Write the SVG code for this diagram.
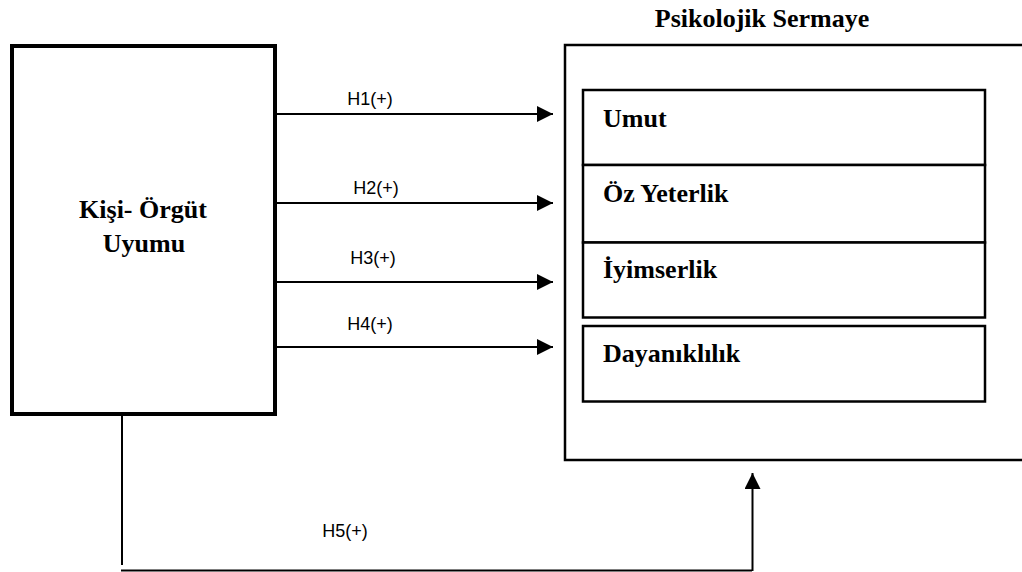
<svg xmlns="http://www.w3.org/2000/svg" width="1022" height="572" viewBox="0 0 1022 572">
  <defs>
    <marker id="arrow" markerUnits="userSpaceOnUse" markerWidth="16" markerHeight="16" refX="16" refY="8" orient="auto">
      <path d="M0,0 L16,8 L0,16 Z" fill="#000"/>
    </marker>
    <style>
      .bold { font-family: "Liberation Serif", "Times New Roman", serif; font-weight: bold; font-size: 26px; fill: #000; }
      .lbl { font-family: "Liberation Sans", Arial, sans-serif; font-size: 18px; fill: #000; text-anchor: middle; }
      .box { fill: #fff; stroke: #000; }
      .conn { fill: none; stroke: #000; stroke-width: 2; }
    </style>
  </defs>
  <rect width="1022" height="572" fill="#fff"/>

  <g id="kisi-orgut-uyumu">
    <rect class="box" x="12" y="46" width="263" height="368" stroke-width="4"/>
    <text class="bold" x="143" y="218" text-anchor="middle">Kişi- Örgüt</text>
    <text class="bold" x="144" y="252" text-anchor="middle">Uyumu</text>
  </g>

  <g id="psikolojik-sermaye">
    <text class="bold" x="762" y="27" text-anchor="middle">Psikolojik Sermaye</text>
    <rect class="box" x="565" y="45" width="470" height="415" stroke-width="2.5"/>
  </g>

  <g id="umut">
    <rect class="box" x="583" y="90" width="402" height="75" stroke-width="2.5"/>
    <text class="bold" x="603" y="127">Umut</text>
  </g>
  <g id="oz-yeterlik">
    <rect class="box" x="583" y="165" width="402" height="77.5" stroke-width="2.5"/>
    <text class="bold" x="603" y="202">Öz Yeterlik</text>
  </g>
  <g id="iyimserlik">
    <rect class="box" x="583" y="242.5" width="402" height="75" stroke-width="2.5"/>
    <text class="bold" x="603" y="278">İyimserlik</text>
  </g>
  <g id="dayaniklilik">
    <rect class="box" x="583" y="326" width="402" height="75.5" stroke-width="2.5"/>
    <text class="bold" x="603" y="362">Dayanıklılık</text>
  </g>

  <g id="connectors">
    <line class="conn" x1="275" y1="114" x2="553" y2="114" marker-end="url(#arrow)"/>
    <line class="conn" x1="275" y1="203" x2="553" y2="203" marker-end="url(#arrow)"/>
    <line class="conn" x1="275" y1="282" x2="553" y2="282" marker-end="url(#arrow)"/>
    <line class="conn" x1="275" y1="347" x2="553" y2="347" marker-end="url(#arrow)"/>
    <line class="conn" x1="122" y1="414" x2="122" y2="565"/>
    <line class="conn" x1="121" y1="570.5" x2="752" y2="570.5"/>
    <line class="conn" x1="752.5" y1="571" x2="752.5" y2="473" marker-end="url(#arrow)"/>
    <text class="lbl" x="370" y="105">H1(+)</text>
    <text class="lbl" x="376" y="194">H2(+)</text>
    <text class="lbl" x="373" y="264">H3(+)</text>
    <text class="lbl" x="370" y="330">H4(+)</text>
    <text class="lbl" x="345" y="537">H5(+)</text>
  </g>
</svg>
